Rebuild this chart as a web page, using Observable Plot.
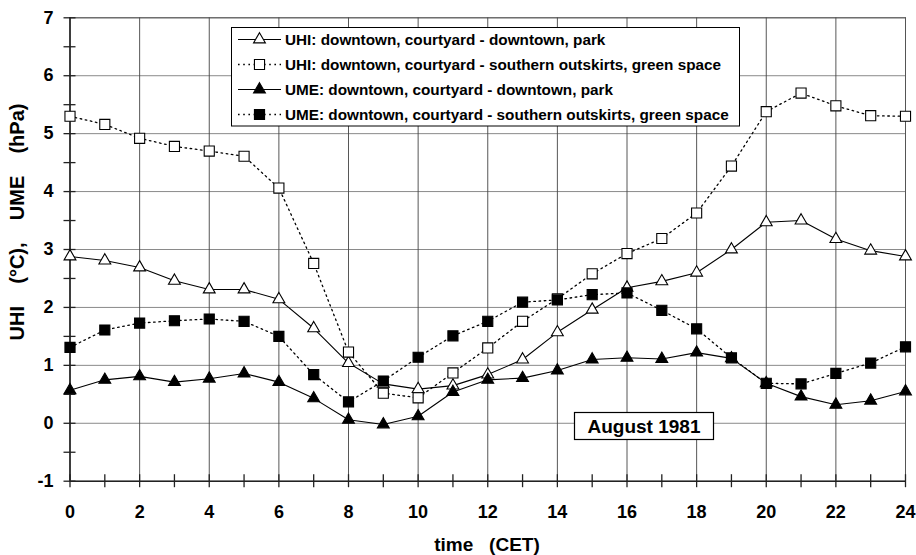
<!DOCTYPE html>
<html>
<head>
<meta charset="utf-8">
<script src="https://cdn.jsdelivr.net/npm/d3@7"></script>
<script src="https://cdn.jsdelivr.net/npm/@observablehq/plot@0.6"></script>
<style>
  html, body { margin: 0; padding: 0; background: #fff; }
  #chart { position: relative; width: 916px; height: 555px; }
</style>
</head>
<body>
<div id="chart"></div>
<script>
// ---- data ----
const hours = [0,1,2,3,4,5,6,7,8,9,10,11,12,13,14,15,16,17,18,19,20,21,22,23,24];
const uhiPark  = [2.88,2.81,2.69,2.46,2.31,2.31,2.14,1.64,1.04,0.68,0.59,0.65,0.84,1.10,1.57,1.96,2.34,2.45,2.60,3.00,3.47,3.50,3.18,2.98,2.88];
const uhiGreen = [5.30,5.16,4.92,4.78,4.70,4.61,4.06,2.76,1.23,0.52,0.44,0.87,1.30,1.76,2.15,2.58,2.93,3.19,3.63,4.44,5.38,5.70,5.48,5.31,5.30];
const umePark  = [0.57,0.75,0.81,0.71,0.77,0.86,0.71,0.43,0.06,-0.02,0.12,0.54,0.75,0.78,0.91,1.10,1.13,1.11,1.22,1.12,0.69,0.46,0.32,0.39,0.55];
const umeGreen = [1.31,1.61,1.73,1.77,1.80,1.76,1.50,0.84,0.37,0.73,1.14,1.51,1.76,2.09,2.13,2.22,2.25,1.95,1.63,1.13,0.69,0.68,0.86,1.04,1.32];
const seriesNames = [
  "UHI: downtown, courtyard - downtown, park",
  "UHI: downtown, courtyard - southern outskirts, green space",
  "UME: downtown, courtyard - downtown, park",
  "UME: downtown, courtyard - southern outskirts, green space"
];
const xTickLabels = [0,2,4,6,8,10,12,14,16,18,20,22,24];
const xMinorTicks = hours;
const yTickLabels = [-1,0,1,2,3,4,5,6,7];
const yMinorTicks = [-1,-0.5,0,0.5,1,1.5,2,2.5,3,3.5,4,4.5,5,5.5,6,6.5,7];
const xTitle = "time\u00a0\u00a0\u00a0(CET)";
const yTitle = "UHI\u00a0\u00a0\u00a0\u00a0(°C),\u00a0\u00a0\u00a0\u00a0UME\u00a0\u00a0\u00a0\u00a0(hPa)";
const annotation = "August 1981";

// series styling
const styles = [
  {symbol: "triangle", fill: "white", dash: null, r: 4.4},
  {symbol: "square",   fill: "white", dash: "1.6,3.6", r: 5.7},
  {symbol: "triangle", fill: "black", dash: null, r: 4.4},
  {symbol: "square",   fill: "black", dash: "1.6,3.6", r: 5.7}
];
const values = [uhiPark, uhiGreen, umePark, umeGreen];
const tables = values.map(v => hours.map((h, i) => ({h, v: v[i]})));

const FONT = "'Liberation Sans', Arial, sans-serif";
const W = 916, H = 555, ML = 69.5, MR = 11, MT = 17.3, MB = 74.3;
const frameW = W - ML - MR, frameH = H - MT - MB;

const seriesMarks = tables.flatMap((t, k) => [
  Plot.line(t, {x: "h", y: "v", stroke: "black", strokeWidth: k % 2 ? 1.3 : 1.1,
                strokeDasharray: styles[k].dash}),
  Plot.dot(t, {x: "h", y: "v", symbol: () => styles[k].symbol, r: styles[k].r,
               fill: styles[k].fill, stroke: "black", strokeWidth: 1.1})
]);

const plot = Plot.plot({
  width: W,
  height: H,
  marginLeft: ML,
  marginRight: MR,
  marginTop: MT,
  marginBottom: MB,
  style: {fontFamily: FONT, fontWeight: "bold", fontSize: "18px", color: "black", background: "white"},
  x: {domain: [0, 24]},
  y: {domain: [-1, 7]},
  symbol: {type: "identity"},
  marks: [
    Plot.gridY(yTickLabels, {stroke: "#8a8a8a", strokeOpacity: 1, strokeWidth: 1}),
    Plot.gridX(xTickLabels, {stroke: "#444", strokeOpacity: 1, strokeWidth: 0.9}),
    Plot.ruleY([7], {stroke: "#555", strokeWidth: 1}),
    Plot.ruleX([24], {stroke: "#555", strokeWidth: 1}),
    Plot.ruleX([0], {stroke: "#222", strokeWidth: 1.6}),
    Plot.ruleY([-1], {stroke: "#222", strokeWidth: 1.6}),
    // tick marks crossing the axes
    Plot.tickX(xMinorTicks, {x: d => d, stroke: "#222", strokeWidth: 1.3,
                             insetTop: frameH - 6.5, insetBottom: -6.5}),
    Plot.tickY(yMinorTicks, {y: d => d, stroke: "#222", strokeWidth: 1.3,
                             insetLeft: -6, insetRight: frameW - 6}),
    // tick labels
    Plot.axisX(xTickLabels, {tickSize: 0, tickPadding: 24, label: null, fontSize: 18, fontWeight: "bold"}),
    Plot.axisY(yTickLabels, {tickSize: 0, tickPadding: 16.5, label: null, fontSize: 18, fontWeight: "bold", tickFormat: d => d}),
    ...seriesMarks
  ]
});

document.getElementById("chart").appendChild(plot);

// ---- titles, legend and annotation box ----
const svg = d3.select(plot);
svg.append("text")
  .attr("x", 487).attr("y", 551)
  .attr("text-anchor", "middle")
  .attr("font-family", FONT).attr("font-weight", "bold").attr("font-size", 19)
  .attr("fill", "black")
  .text(xTitle);
svg.append("text")
  .attr("transform", "translate(24,222) rotate(-90)")
  .attr("text-anchor", "middle")
  .attr("font-family", FONT).attr("font-weight", "bold").attr("font-size", 20)
  .attr("fill", "black")
  .text(yTitle);

const lg = svg.append("g");
lg.append("rect")
  .attr("x", 231.5).attr("y", 27.5).attr("width", 508).attr("height", 98.5)
  .attr("fill", "white").attr("stroke", "black").attr("stroke-width", 1);
seriesNames.forEach((name, k) => {
  const yy = 39.5 + 25 * k;
  lg.append("line")
    .attr("x1", 238).attr("x2", 281).attr("y1", yy).attr("y2", yy)
    .attr("stroke", "black").attr("stroke-width", k % 2 ? 1.3 : 1.1)
    .attr("stroke-dasharray", styles[k].dash);
  const sym = styles[k].symbol === "triangle" ? d3.symbolTriangle : d3.symbolSquare;
  lg.append("path")
    .attr("transform", `translate(259.5,${yy})`)
    .attr("d", d3.symbol(sym, Math.PI * styles[k].r * styles[k].r)())
    .attr("fill", styles[k].fill).attr("stroke", "black").attr("stroke-width", 1.1);
  lg.append("text")
    .attr("x", 285).attr("y", yy).attr("dy", "0.36em")
    .attr("text-anchor", "start")
    .attr("font-family", FONT).attr("font-weight", "bold").attr("font-size", 15.3)
    .attr("fill", "black")
    .text(name);
});

const ab = svg.append("g");
ab.append("rect")
  .attr("x", 574.5).attr("y", 412.5).attr("width", 139).attr("height", 27)
  .attr("fill", "white").attr("stroke", "black").attr("stroke-width", 1.2);
ab.append("text")
  .attr("x", 644).attr("y", 426).attr("dy", "0.36em")
  .attr("text-anchor", "middle")
  .attr("font-family", FONT).attr("font-weight", "bold").attr("font-size", 19)
  .attr("fill", "black")
  .text(annotation);
</script>
</body>
</html>
